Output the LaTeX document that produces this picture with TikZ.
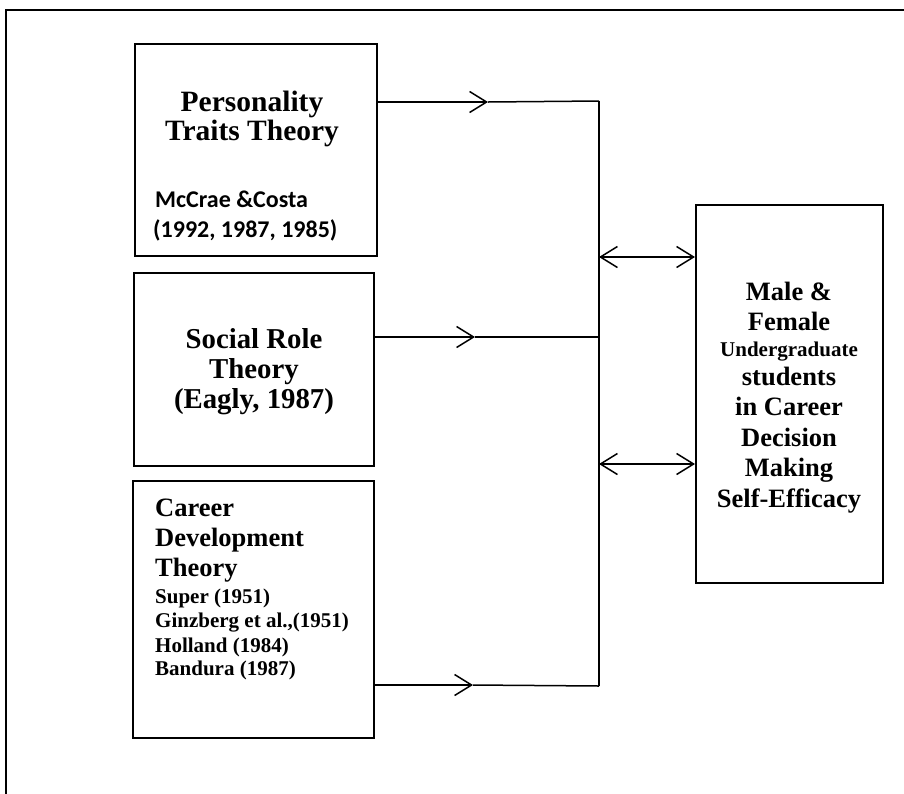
\documentclass[tikz,border=0pt]{standalone}
\usepackage{fontspec}
\setmainfont{Liberation Serif}
\newfontfamily\calfont{Carlito}
\usetikzlibrary{arrows.meta}
\begin{document}
\begin{tikzpicture}[x=1pt,y=-1pt,
 box/.style={draw, line width=2pt, inner sep=0pt},
 conn/.style={line width=1.5pt},
 arr/.style={conn, -{Straight Barb[length=17pt,width=21pt]}},
 darr/.style={conn, {Straight Barb[length=17pt,width=21pt]}-{Straight Barb[length=17pt,width=21pt]}},
 big/.style={inner sep=0pt, anchor=base, font=\bfseries\fontsize{29.5}{30}\selectfont},
 mid/.style={inner sep=0pt, anchor=base, font=\bfseries\fontsize{28.8}{30}\selectfont},
 bigl/.style={inner sep=0pt, anchor=base west, font=\bfseries\fontsize{26.5}{30}\selectfont},
 smalll/.style={inner sep=0pt, anchor=base west, font=\bfseries\fontsize{21}{24}\selectfont},
 calt/.style={inner sep=0pt, anchor=base west, font=\calfont\bfseries\fontsize{24}{28}\selectfont},
 rbig/.style={inner sep=0pt, anchor=base, font=\bfseries\fontsize{26.5}{30}\selectfont},
 rsmall/.style={inner sep=0pt, anchor=base, font=\bfseries\fontsize{21}{24}\selectfont}
]
\useasboundingbox (0,0) rectangle (904,793);
\clip (0,0) rectangle (904,793);
\draw[line width=2pt] (6,10) rectangle (930,820);

% boxes
\node[box, minimum width=242pt, minimum height=212pt] (b1) at (256,150) {};
\node[box, minimum width=240pt, minimum height=193pt] (b2) at (254,369.5) {};
\node[box, minimum width=241pt, minimum height=257pt] (b3) at (253.5,609.5) {};
\node[box, minimum width=187pt, minimum height=378pt] (b4) at (789.5,394) {};

% box 1 text
\node[big] (p1) at (252,111) {Personality};
\node[big] (p2) at (252,140) {Traits Theory};
\node[calt] (p3) at (155,207) {McCrae \&Costa};
\node[calt] (p4) at (153,237) {(1992, 1987, 1985)};

% box 2 text
\node[mid] (s1) at (254,348) {Social Role};
\node[mid] (s2) at (254,378) {Theory};
\node[mid] (s3) at (254,408) {(Eagly, 1987)};

% box 3 text
\node[bigl] (c1) at (155,516) {Career};
\node[bigl] (c2) at (155,546) {Development};
\node[bigl] (c3) at (155,576) {Theory};
\node[smalll] (c4) at (155,603) {Super (1951)};
\node[smalll] (c5) at (155,627) {Ginzberg et al.,(1951)};
\node[smalll] (c6) at (155,652) {Holland (1984)};
\node[smalll] (c7) at (155,675) {Bandura (1987)};

% box 4 text
\node[rbig] (m1) at (789,300) {Male \&};
\node[rbig] (m2) at (789,330) {Female};
\node[rsmall] (m3) at (789,356) {Undergraduate};
\node[rbig] (m4) at (789,385) {students};
\node[rbig] (m5) at (789,415) {in Career};
\node[rbig] (m6) at (789,446) {Decision};
\node[rbig] (m7) at (789,476) {Making};
\node[rbig] (m8) at (789,507) {Self-Efficacy};

% connectors
\coordinate (t1) at (488,102);
\coordinate (j1) at (599,101);
\coordinate (t2) at (475,337);
\coordinate (j2) at (599,337);
\coordinate (t3) at (473,685);
\coordinate (j3) at (599,686);
\coordinate (d1) at (599,257);
\coordinate (d2) at (599,464);

\draw[arr] (b1.east |- t1) -- (t1);
\draw[conn] (t1) -- (j1);
\draw[arr] (b2.east |- t2) -- (t2);
\draw[conn] (t2) -- (j2);
\draw[arr] (b3.east |- t3) -- (t3);
\draw[conn] (t3) -- (j3);
\draw[conn] (j1) -- (j3);
\draw[darr] (d1) -- (b4.west |- d1);
\draw[darr] (d2) -- (b4.west |- d2);
\end{tikzpicture}
\end{document}
